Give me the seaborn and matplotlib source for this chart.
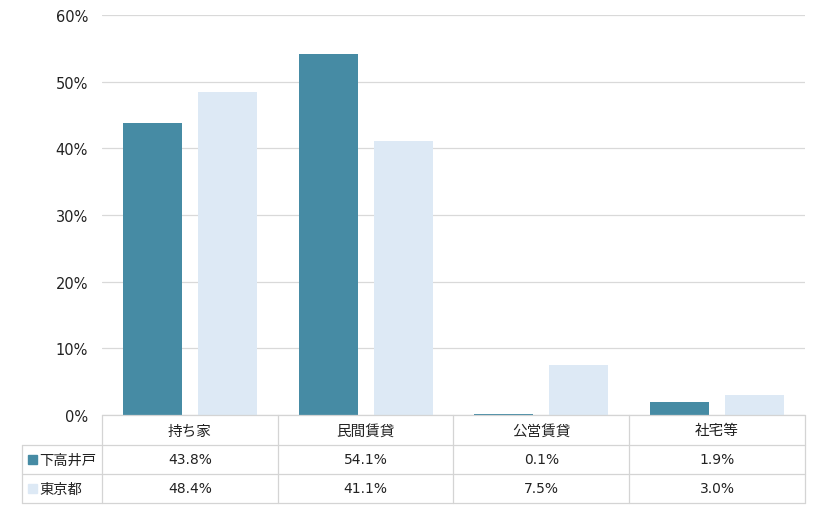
import matplotlib
matplotlib.use("Agg")
import matplotlib.pyplot as plt
import matplotlib.transforms as mtransforms
from matplotlib.patches import Rectangle
import seaborn as sns
import pandas as pd

# data
categories = ["持ち家", "民間賃貸", "公営賃貸", "社宅等"]
series_names = ["下高井戸", "東京都"]
shimotakaido = [43.8, 54.1, 0.1, 1.9]
tokyo = [48.4, 41.1, 7.5, 3.0]
colors = ["#468BA4", "#DDE9F5"]

df = pd.DataFrame({
    "category": categories * 2,
    "area": [series_names[0]] * 4 + [series_names[1]] * 4,
    "value": shimotakaido + tokyo,
})

sns.set_style("white")
plt.rcParams["font.family"] = ["DejaVu Sans", "Noto Sans CJK JP"]

fig = plt.figure(figsize=(8.2, 5.1), dpi=100)
ax = fig.add_axes([102 / 820, 1 - 416 / 510, 703 / 820, 400 / 510])

sns.barplot(data=df, x="category", y="value", hue="area", order=categories,
            hue_order=series_names, palette=colors, width=0.852, gap=0.213,
            saturation=1, linewidth=0, legend=False, ax=ax)

ax.set_ylim(0, 60)
ax.set_xlim(-0.5, len(categories) - 0.5)
ax.set_yticks(range(0, 61, 10))
ax.set_yticklabels([f"{v}%" for v in range(0, 61, 10)], fontsize=10.5, color="#222222")
ax.set_xticks([])
ax.set_xlabel("")
ax.set_ylabel("")
ax.tick_params(axis="y", length=0, pad=10)
for s in ax.spines.values():
    s.set_visible(False)
ax.yaxis.grid(True, color="#D9D9D9", linewidth=0.9)
ax.set_axisbelow(True)

# data table under the chart
trans = mtransforms.blended_transform_factory(ax.transData, ax.transAxes)
line_c = "#D4D4D4"
row_y = [0, -0.075, -0.1475, -0.22]  # header, row1, row2 boundaries
left_x = -0.5 - 80 / 176
n = len(categories)

def hline(x0, x1, y):
    ax.plot([x0, x1], [y, y], color=line_c, lw=0.9, transform=trans, clip_on=False)

def vline(x, y0, y1):
    ax.plot([x, x], [y0, y1], color=line_c, lw=0.9, transform=trans, clip_on=False)

hline(-0.5, n - 0.5, row_y[0])
for y in row_y[1:]:
    hline(left_x, n - 0.5, y)
vline(left_x, row_y[1], row_y[3])
for i in range(n + 1):
    vline(i - 0.5, row_y[0], row_y[3])

for i, c in enumerate(categories):
    ax.text(i, (row_y[0] + row_y[1]) / 2, c, transform=trans, ha="center",
            va="center", fontsize=10.5, color="#222222")

for r, (name, vals) in enumerate(zip(series_names, [shimotakaido, tokyo])):
    yc = (row_y[r + 1] + row_y[r + 2]) / 2
    for i, v in enumerate(vals):
        ax.text(i, yc, f"{v:.1f}%", transform=trans, ha="center", va="center",
                fontsize=10, color="#222222")
    ax.add_patch(Rectangle((left_x + 6 / 176, yc - 0.011), 9 / 176, 0.022,
                           transform=trans, color=colors[r], clip_on=False))
    ax.text(left_x + 17 / 176, yc, name, transform=trans, ha="left",
            va="center", fontsize=10.3, color="#222222")

fig.savefig("out.png", dpi=100)
